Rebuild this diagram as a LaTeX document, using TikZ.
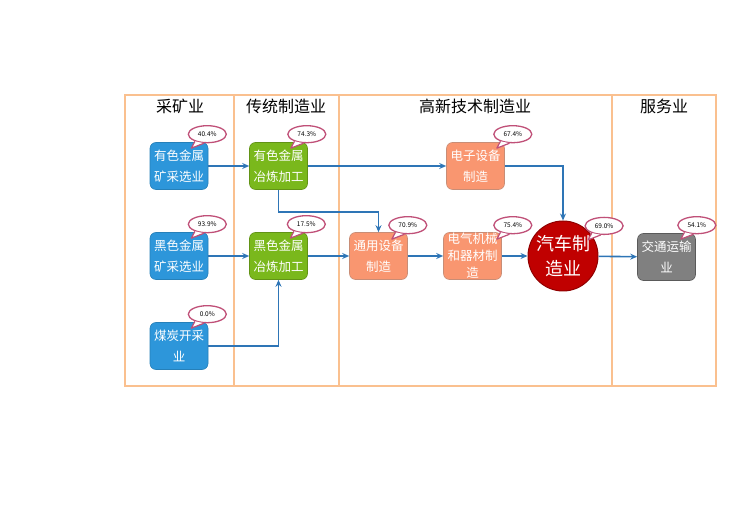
\documentclass[tikz,border=0pt]{standalone}
\usepackage{fontspec}
\setmainfont{Noto Sans CJK SC}
\usepackage{tikz}
\usetikzlibrary{shapes.geometric, arrows.meta, positioning, calc}
\definecolor{laneorg}{RGB}{250,192,143}
\definecolor{myblue}{RGB}{45,150,218}
\definecolor{mygreen}{RGB}{122,184,28}
\definecolor{mysalmon}{RGB}{249,150,112}
\definecolor{myred}{RGB}{192,0,0}
\definecolor{mygray}{RGB}{128,128,128}
\definecolor{arrblue}{RGB}{46,117,182}
\definecolor{bubpink}{RGB}{192,80,120}
\tikzset{
  arr/.style={-{Stealth[length=7pt,width=6pt]}, line width=1.6pt, color=arrblue},
  lane/.style={draw=laneorg, line width=2pt}
}
\begin{document}
\begin{tikzpicture}[x=1pt, y=1pt,
  hdr/.style={font=\fontsize{16}{19}\selectfont, text=black},
  ind/.style={rectangle, rounded corners=6pt, minimum width=58pt, minimum height=47pt, inner sep=1pt,
    align=center, text=white, font=\fontsize{12.5}{21}\selectfont, line width=0.6pt},
  mine/.style={ind, fill=myblue, draw=myblue!85!black},
  trad/.style={ind, fill=mygreen, draw=mygreen!80!black},
  tech/.style={ind, fill=mysalmon, draw=mysalmon!60!gray},
  serv/.style={ind, fill=mygray, draw=mygray!70!black},
  bubble/.style={ellipse, draw=bubpink, fill=white, line width=1.3pt, minimum width=38pt, minimum height=17pt,
    inner sep=0pt, font=\fontsize{6.5}{7}\selectfont},
  tail/.style={draw=bubpink, line width=1.2pt, line join=round}
]
\useasboundingbox (0,0) rectangle (746,527);

%--- lanes ---
\draw[lane] (125,141) rectangle (716,432);
\draw[lane] (234,141) -- (234,432);
\draw[lane] (339,141) -- (339,432);
\draw[lane] (612,141) -- (612,432);
\node[hdr] (h1) at (180,421) {采矿业};
\node[hdr] (h2) at (286,421) {传统制造业};
\node[hdr] (h3) at (475,421) {高新技术制造业};
\node[hdr] (h4) at (664,421) {服务业};

%--- mining ---
\node[mine] (ys) at (179,361) {有色金属\\矿采选业};
\node[mine] (hs) at (179,271) {黑色金属\\矿采选业};
\node[mine] (mt) at (179,181) {煤炭开采\\业};

%--- traditional manufacturing ---
\node[trad] (yl) at (278.5,361) {有色金属\\冶炼加工};
\node[trad] (hl) at (278.5,271) {黑色金属\\冶炼加工};

%--- high-tech manufacturing ---
\node[tech] (dz) at (475.5,361) {电子设备\\制造};
\node[tech] (ty) at (378.5,271) {通用设备\\制造};
\node[tech] (dq) at (472.5,271) {};
\node[text=white, align=center, font=\fontsize{12.5}{17}\selectfont] (dqt) at ($(dq.center)+(0,0)$) {电气机械\\和器材制\\造};
\node[circle, fill=myred, draw=myred!75!black, line width=1pt, minimum size=70pt, inner sep=0pt,
  align=center, text=white, font=\fontsize{18}{25}\selectfont] (car) at (563,271) {汽车制\\造业};

%--- services ---
\node[serv] (jt) at (666.5,270) {交通运输\\业};

%--- links ---
\draw[arr] (ys) -- (yl);
\draw[arr] (hs) -- (hl);
\draw[arr] (mt.east) -| (hl.south);
\draw[arr] (yl) -- (dz);
\draw[arr] (yl.south) -- ++(0,-22) -| (ty.north);
\draw[arr] (hl) -- (ty);
\draw[arr] (ty) -- (dq);
\draw[arr] (dq) -- (car);
\draw[arr] (dz.east) -| (car.north);
\draw[arr] (car) -- (jt);

%--- share bubbles ---
\foreach \b/\dx/\dy/\v in {ys/-1/8/40.4\%, yl/-1/8/74.3\%, hs/-1/8/93.9\%, hl/-1.5/8/17.5\%, mt/-1/8/0.0\%,
    dz/8/8/67.4\%, ty/0/7/70.9\%, dq/11/7/75.4\%, jt/1/8/54.1\%, car/16/5/69.0\%} {
  \node[bubble] (c\b) at ($(\b.north east)+(\dx,\dy)$) {\v};
  \fill[white] (c\b.210) -- ($(c\b.center)+(-16,-14)$) -- (c\b.250) -- cycle;
  \draw[tail] (c\b.210) -- ($(c\b.center)+(-16,-14)$) -- (c\b.250);
}
\end{tikzpicture}
\end{document}
